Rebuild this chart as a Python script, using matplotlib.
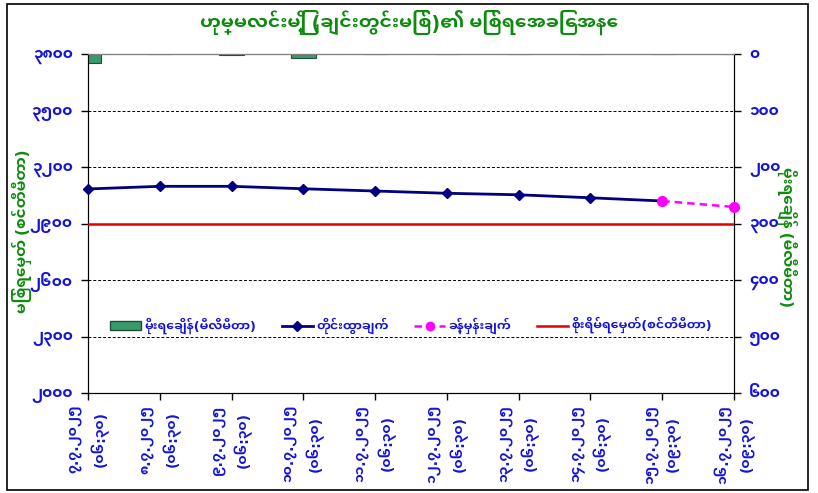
import matplotlib
matplotlib.use("Agg")
import matplotlib.pyplot as plt
from matplotlib.lines import Line2D
from matplotlib.patches import Patch, Rectangle
import numpy as np

# ---------------- data ----------------
dates = ["၇.၇.၂၀၂၅\n(၀၆:၃၀)", "၈.၇.၂၀၂၅\n(၀၆:၃၀)", "၉.၇.၂၀၂၅\n(၀၆:၃၀)",
         "၁၀.၇.၂၀၂၅\n(၀၆:၃၀)", "၁၁.၇.၂၀၂၅\n(၀၆:၃၀)", "၁၂.၇.၂၀၂၅\n(၀၆:၃၀)",
         "၁၃.၇.၂၀၂၅\n(၀၆:၃၀)", "၁၄.၇.၂၀၂၅\n(၀၆:၃၀)", "၁၅.၇.၂၀၂၅\n(၀၉:၃၀)",
         "၁၆.၇.၂၀၂၅\n(၀၉:၃၀)"]
observed = [3085, 3099, 3099, 3086, 3074, 3062, 3054, 3038, 3021]
forecast = [3021, 2989]
danger_level = 2900
rainfall = [15, 0, 0.8, 7, 0, 0, 0, 0, 0, 0]
left_ticks = [2000, 2300, 2600, 2900, 3200, 3500, 3800]
left_labels = ["၂၀၀၀", "၂၃၀၀", "၂၆၀၀", "၂၉၀၀", "၃၂၀၀", "၃၅၀၀", "၃၈၀၀"]
right_ticks = [0, 100, 200, 300, 400, 500, 600]
right_labels = ["၀", "၁၀၀", "၂၀၀", "၃၀၀", "၄၀၀", "၅၀၀", "၆၀၀"]

title = "ဟုမ္မလင်းမြို့ (ချင်းတွင်းမြစ်)၏ မြစ်ရေအခြေအနေ"
left_title = "မြစ်ရေမှတ် (စင်တီမီတာ)"
right_title = "မိုးရေချိန် (မီလီမီတာ)"
legend_labels = ["မိုးရေချိန်(မီလီမီတာ)", "တိုင်းထွာချက်", "ခန့်မှန်းချက်",
                 "စိုးရိမ်ရေမှတ်(စင်တီမီတာ)"]

plt.rcParams["font.family"] = ["Noto Sans Myanmar UI", "DejaVu Sans"]

blue = "#1414D8"
green = "#0E8A0E"

fig = plt.figure(figsize=(8.18, 4.93), dpi=100)
fig.patch.set_facecolor("white")
fig.add_artist(Rectangle((0.008, 0.006), 0.98, 0.985, transform=fig.transFigure,
                         fill=False, edgecolor="black", linewidth=1.2))

ax = fig.add_axes([0.1076, 0.2028, 0.7897, 0.6867])
x = np.arange(len(dates))

ax2 = ax.twinx()
ax2.set_facecolor("#CCFFFF")
ax2.set_ylim(600, 0)
ax2.bar(x, rainfall, width=0.35, color="#3A9A6A", edgecolor="#1F4F3A",
        linewidth=0.8, zorder=3)
ax2.set_yticks(right_ticks)
ax2.set_yticklabels(right_labels, color=blue, fontsize=11, fontweight="bold")
ax2.tick_params(axis="y", direction="out", length=5, width=1, pad=6)
ax2.set_xlim(0, len(dates) - 1)

ax.set_zorder(ax2.get_zorder() + 1)
ax.patch.set_visible(False)
ax.set_ylim(2000, 3800)
ax.set_xlim(0, len(dates) - 1)
for t in left_ticks[1:-1]:
    ax.axhline(t, color="black", linestyle=(0, (3, 2)), linewidth=0.7, zorder=1)
ax.plot(x[:len(observed)], observed, color="#000080", linewidth=2,
        marker="D", markersize=5.5, zorder=5, clip_on=False)
ax.plot(x[len(observed) - 1:len(observed) - 1 + len(forecast)], forecast,
        color="#FF00FF", linewidth=1.8, linestyle=(0, (3, 2)), marker="o",
        markersize=7, zorder=6, clip_on=False)
ax.axhline(danger_level, color="#E00000", linewidth=1.8, zorder=4)

ax.set_yticks(left_ticks)
ax.set_yticklabels(left_labels, color=blue, fontsize=11, fontweight="bold")
ax.set_xticks(x)
ax.set_xticklabels(dates, rotation=90, color=blue, fontsize=10,
                   fontweight="bold", linespacing=1.6, va="top", ha="center")
ax.tick_params(axis="both", direction="out", length=5, width=1)
ax.tick_params(axis="y", pad=6)
for s in ["left", "bottom", "right"]:
    ax.spines[s].set_color("black")
ax.spines["top"].set_color("#808080")

fig.text(0.027, 0.53, left_title, rotation=90, ha="center", va="center",
         color=green, fontsize=11, fontweight="bold")
fig.text(0.962, 0.52, right_title, rotation=-90, ha="center", va="center",
         color=green, fontsize=11, fontweight="bold")

handles = [Patch(facecolor="#3A9A6A", edgecolor="#1F4F3A"),
           Line2D([], [], color="#000080", lw=2, marker="D", markersize=5),
           Line2D([], [], color="#FF00FF", lw=1.8, ls=(0, (3, 2)), marker="o",
                  markersize=6),
           Line2D([], [], color="#E00000", lw=1.8)]
leg = ax.legend(handles, legend_labels, loc="center", bbox_to_anchor=(0.5, 0.2),
                ncol=4, frameon=False, fontsize=9, columnspacing=2.0,
                handlelength=2.5, handletextpad=0.3)
for t in leg.get_texts():
    t.set_color(blue)
    t.set_fontweight("bold")

fig.text(0.5, 0.955, title, ha="center", va="center", color=green,
         fontsize=13.5, fontweight="bold")

fig.savefig("out.png", dpi=100)
